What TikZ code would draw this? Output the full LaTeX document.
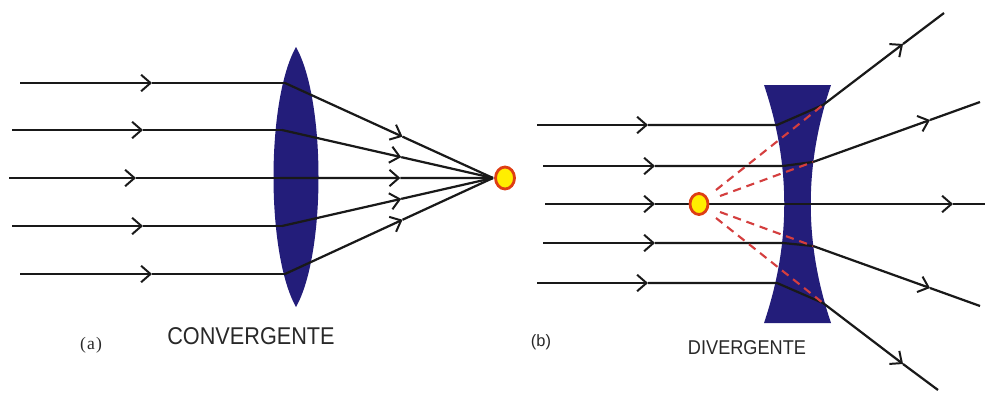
\documentclass[tikz,border=0pt]{standalone}
\usepackage{fontspec}
\setmainfont{Liberation Serif}
\setsansfont{Liberation Sans}
\usetikzlibrary{arrows.meta,calc}
\definecolor{lensblue}{RGB}{35,29,122}
\definecolor{dashred}{RGB}{212,62,62}
\definecolor{dotfill}{RGB}{255,238,0}
\definecolor{dotline}{RGB}{222,62,20}
\definecolor{txtgray}{RGB}{40,40,40}
\tikzset{
  ray/.style={line width=1.9pt,black!90},
  rayarr/.style={ray,-{Straight Barb[length=8pt,width=14pt,line width=1.7pt]}},
  lens/.style={fill=lensblue,draw=none},
  virt/.style={line width=1.8pt,dashred,dash pattern=on 7pt off 5pt},
  focus/.style={fill=dotfill,draw=dotline,line width=2.4pt},
  lbl/.style={font=\sffamily,text=txtgray,inner sep=0pt},
  tag/.style={font=\rmfamily,text=txtgray,inner sep=0pt}
}
\begin{document}
\begin{tikzpicture}[x=0.03cm,y=-0.03cm]
\useasboundingbox (0,0) rectangle (993,392);
% ---------- (a) converging lens ----------
\fill[lens] (296,47) .. controls (266,100) and (266,254) .. (296,307)
            .. controls (326,254) and (326,100) .. (296,47) -- cycle;
\coordinate (F) at (493,178);
\foreach \i/\sx/\y/\ax/\bx in {1/20/83/152/285, 2/12/130/143/282, 3/9/178/136/280, 4/12/226/143/282, 5/20/274/152/285}{
  \coordinate (s\i) at (\sx,\y);
  \coordinate (h\i) at (\ax,\y);
  \coordinate (b\i) at (\bx,\y);
  \coordinate (m\i) at ($(b\i)!0.565!(F)$);
  \draw[rayarr] (s\i) -- (h\i);
  \draw[ray] (h\i) -- (b\i);
  \draw[rayarr] (b\i) -- (m\i);
  \draw[ray] (m\i) -- (F);
}
\path[focus] (505,178) ellipse [x radius=9.5, y radius=11];
\node[lbl] (conv) at (251,336) {\scalebox{1}[1.12]{\fontsize{18.5}{20}\selectfont CONVERGENTE}};
\node[tag] (ta) at (91,345) {\fontsize{15}{17}\selectfont(\kern1pt a\kern1pt)};
% ---------- (b) diverging lens ----------
\fill[lens] (764,85) -- (831,85) .. controls (804,165) and (804,243) .. (831,323)
            -- (764,323) .. controls (791,243) and (791,165) .. (764,85) -- cycle;
\coordinate (V) at (699,204);
% ray 1
\coordinate (r1s) at (537,125); \coordinate (r1h) at (648,125);
\coordinate (r1b) at (777,125); \coordinate (r1x) at (823,105);
\coordinate (r1a) at (903,44);  \coordinate (r1e) at (944,13);
% ray 2
\coordinate (r2s) at (543,166); \coordinate (r2h) at (655,166);
\coordinate (r2b) at (783,166); \coordinate (r2x) at (813,162);
\coordinate (r2a) at (930,120); \coordinate (r2e) at (980,102);
% ray 3
\coordinate (r3s) at (545,204); \coordinate (r3h) at (655,204);
\coordinate (r3a) at (953,204); \coordinate (r3e) at (985,204);
% ray 4
\coordinate (r4s) at (543,243); \coordinate (r4h) at (655,243);
\coordinate (r4b) at (783,243); \coordinate (r4x) at (813,246);
\coordinate (r4a) at (930,288); \coordinate (r4e) at (980,306);
% ray 5
\coordinate (r5s) at (537,283); \coordinate (r5h) at (648,283);
\coordinate (r5b) at (777,283); \coordinate (r5x) at (823,303);
\coordinate (r5a) at (903,364); \coordinate (r5e) at (938,390);
\foreach \i in {1,2,4,5}{
  \draw[rayarr] (r\i s) -- (r\i h);
  \draw[ray] (r\i h) -- (r\i b) -- (r\i x);
  \draw[rayarr] (r\i x) -- (r\i a);
  \draw[ray] (r\i a) -- (r\i e);
}
\draw[rayarr] (r3s) -- (r3h);
\draw[rayarr] (r3h) -- (r3a);
\draw[ray] (r3a) -- (r3e);
% virtual rays
\coordinate (d1) at (716,190); \coordinate (d2) at (720,196);
\coordinate (d4) at (720,212); \coordinate (d5) at (716,218);
\draw[virt] (d1) -- (r1x);
\draw[virt] (d2) -- (r2x);
\draw[virt] (d4) -- (r4x);
\draw[virt] (d5) -- (r5x);
\path[focus] (V) ellipse [x radius=9, y radius=10.5];
\node[lbl] (div) at (747,348) {\scalebox{1}[1.1]{\fontsize{15.5}{18}\selectfont DIVERGENTE}};
\node[lbl] (tb) at (541,342) {\fontsize{14}{16}\selectfont(b)};
\end{tikzpicture}
\end{document}
